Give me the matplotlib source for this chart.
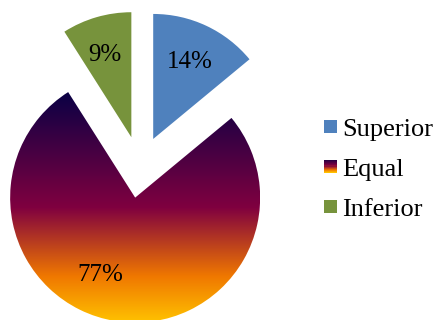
import matplotlib
matplotlib.use("Agg")
import matplotlib.pyplot as plt
import numpy as np
from matplotlib.colors import LinearSegmentedColormap
from matplotlib.legend_handler import HandlerBase
from matplotlib.patches import Rectangle

categories = ["Superior", "Equal", "Inferior"]
values = [14, 77, 9]
labels_pct = ["14%", "77%", "9%"]

plt.rcParams['font.family'] = ['Liberation Serif', 'DejaVu Serif']

W, H = 435, 320
fig = plt.figure(figsize=(W / 100, H / 100), dpi=100)
ax = fig.add_axes([0, 0, 1, 1])

blue = '#4F81BD'
green = '#77933C'
grad_cmap = LinearSegmentedColormap.from_list(
    'fire', [(0.0, (0.04, 0.0, 0.27)), (0.5, (0.50, 0.0, 0.25)),
             (0.8, (0.94, 0.47, 0.0)), (1.0, (1.0, 0.76, 0.0))])

R = 125
wedges, texts, autotexts = ax.pie(
    values, colors=[blue, 'none', green], startangle=90, counterclock=False,
    explode=[31, 31, 31], radius=R, center=(140, 153), frame=True,
    autopct=lambda p: '', pctdistance=0.68,
    wedgeprops=dict(linewidth=0))
ax.set_xlim(0, W)
ax.set_ylim(0, H)
ax.set_aspect('equal')
ax.axis('off')

for t, lab in zip(autotexts, labels_pct):
    t.set_text(lab)
    t.set_fontsize(18)
    t.set_color('black')
# Equal label sits lower-left of its bisector
eq = wedges[1]
cx, cy = eq.center
ang = np.deg2rad(-114.4)
autotexts[1].set_position((cx + 0.68 * R * np.cos(ang), cy + 0.68 * R * np.sin(ang)))
autotexts[2].set_position((autotexts[2].get_position()[0] - 3, autotexts[2].get_position()[1] + 1))

# gradient fill for Equal wedge (navy top -> yellow bottom)
bb = eq.get_path().get_extents()
grad = np.linspace(0, 1, 256).reshape(-1, 1)
im = ax.imshow(grad, cmap=grad_cmap, aspect='auto',
               extent=(bb.x0, bb.x1, bb.y0, bb.y1), origin='upper', zorder=0.5)
im.set_clip_path(eq)
ax.set_xlim(0, W)
ax.set_ylim(0, H)


class GradHandler(HandlerBase):
    def create_artists(self, legend, orig_handle, xdescent, ydescent, width,
                       height, fontsize, trans):
        arts = []
        n = 12
        s = height
        x0 = xdescent + (width - s) / 2
        for i in range(n):
            c = grad_cmap(0.15 + 0.85 * i / (n - 1))
            r = Rectangle((x0, -ydescent + s - (i + 1) * s / n), s, s / n,
                          facecolor=c, edgecolor='none', transform=trans)
            arts.append(r)
        return arts


class SquareHandler(HandlerBase):
    def create_artists(self, legend, orig_handle, xdescent, ydescent, width,
                       height, fontsize, trans):
        s = height
        x0 = xdescent + (width - s) / 2
        return [Rectangle((x0, -ydescent), s, s, facecolor=orig_handle.get_facecolor(),
                          edgecolor='none', transform=trans)]


h_sup = Rectangle((0, 0), 1, 1, facecolor=blue)
h_eq = Rectangle((0, 0), 1, 1, facecolor='purple')
h_inf = Rectangle((0, 0), 1, 1, facecolor=green)
fig.legend([h_sup, h_eq, h_inf], categories,
           handler_map={h_sup: SquareHandler(), h_eq: GradHandler(), h_inf: SquareHandler()},
           loc='center left', bbox_to_anchor=(325 / W, 1 - 170 / H),
           frameon=False, fontsize=19, handlelength=0.42, handleheight=0.42,
           handletextpad=0.22, labelspacing=0.68, borderpad=0, borderaxespad=0)

fig.savefig('out.png', dpi=100)
